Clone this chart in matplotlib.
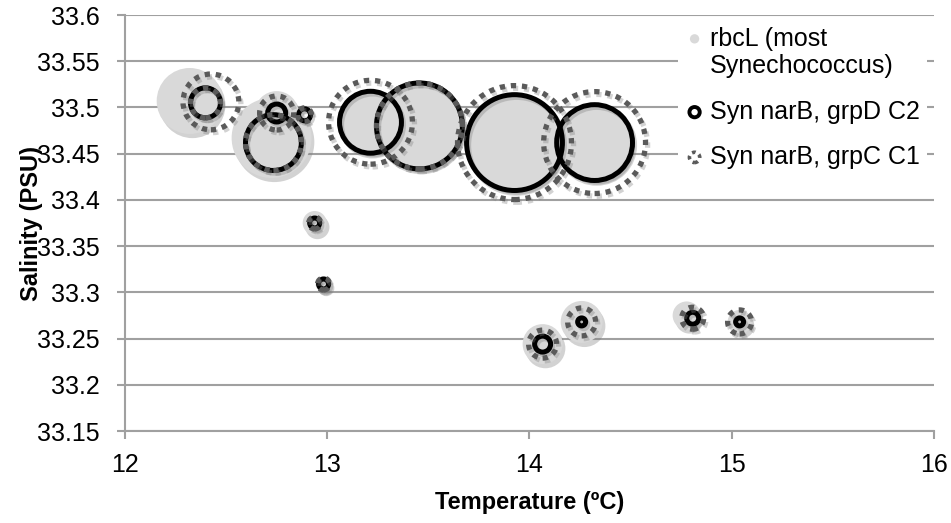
import numpy as np
import matplotlib.pyplot as plt
import matplotlib.patheffects as pe

# bubble data: temperature, salinity, relative bubble size
rbcl_temp = [12.32, 12.725, 12.75, 13.214, 13.456, 13.926, 14.322, 12.938, 12.982, 14.065, 14.258, 14.777, 15.039]
rbcl_sal = [33.507, 33.467, 33.494, 33.484, 33.480, 33.462, 33.462, 33.375, 33.309, 33.244, 33.268, 33.275, 33.268]
rbcl_size = [10.9, 16.0, 4.8, 9.6, 18.5, 23.0, 14.4, 1.44, 0.64, 4.0, 4.4, 1.96, 1.44]

grpd_temp = [12.398, 12.734, 12.75, 12.888, 13.214, 13.456, 13.926, 14.322, 12.938, 12.982, 14.065, 14.258, 14.807, 15.039]
grpd_sal = [33.505, 33.462, 33.494, 33.492, 33.484, 33.480, 33.462, 33.462, 33.375, 33.309, 33.244, 33.268, 33.272, 33.268]
grpd_size = [2.25, 7.8, 0.81, 0.36, 9.6, 18.5, 23.0, 14.4, 0.25, 0.25, 0.64, 0.16, 0.36, 0.16]

grpc_temp = [12.398, 12.425, 12.734, 12.75, 12.888, 13.214, 13.456, 13.926, 14.322, 12.938, 12.982, 14.065, 14.258, 14.807, 15.039]
grpc_sal = [33.505, 33.506, 33.462, 33.494, 33.492, 33.484, 33.480, 33.462, 33.462, 33.375, 33.309, 33.244, 33.268, 33.272, 33.268]
grpc_size = [2.25, 7.8, 7.8, 2.9, 0.49, 17.6, 18.5, 32.5, 26.0, 0.36, 0.36, 1.96, 1.96, 1.21, 1.44]

labels = ['rbcL (most\nSynechococcus)', 'Syn narB, grpD C2', 'Syn narB, grpC C1']

x_ticks = [12, 13, 14, 15, 16]
y_ticks = np.round(np.arange(33.15, 33.601, 0.05), 2)

plt.rcParams['font.family'] = ['Liberation Sans', 'DejaVu Sans']

SCALE = 207  # bubble value -> points^2
grid_col = '#a0a0a0'

fig = plt.figure(figsize=(9.51, 5.23), dpi=100)
ax = fig.add_axes([0.1314, 0.1759, 0.8507, 0.7954])

shadow_fill = [pe.SimplePatchShadow(offset=(2, -3), shadow_rgbFace='#808080', alpha=0.35), pe.Normal()]
shadow_line = [pe.SimpleLineShadow(offset=(1.5, -2), shadow_color='#808080', alpha=0.35), pe.Normal()]

ax.scatter(rbcl_temp, rbcl_sal, s=np.array(rbcl_size) * SCALE, color='#d9d9d9',
           edgecolors='none', zorder=3, path_effects=shadow_fill, label=labels[0])
ax.scatter(grpd_temp, grpd_sal, s=np.array(grpd_size) * SCALE, facecolors='none',
           edgecolors='black', linewidths=3.6, zorder=4, path_effects=shadow_line, label=labels[1])
ax.scatter(grpc_temp, grpc_sal, s=np.array(grpc_size) * SCALE, facecolors='none',
           edgecolors='#5a5a5a', linewidths=3.8, linestyle=(0, (1, 1.1)), zorder=5,
           path_effects=shadow_line, label=labels[2])

ax.set_xlim(12, 16)
ax.set_ylim(33.15, 33.6)
ax.set_xticks(x_ticks)
ax.set_yticks(y_ticks)
ax.set_yticklabels(['%g' % v for v in y_ticks])
ax.tick_params(axis='both', labelsize=18, color=grid_col, width=1.5, length=6)
ax.tick_params(axis='y', pad=12)
ax.tick_params(axis='x', pad=10)

ax.grid(axis='y', color=grid_col, linewidth=1.5, zorder=0)
ax.set_axisbelow(True)
for side in ['top', 'right']:
    ax.spines[side].set_visible(False)
for side in ['left', 'bottom']:
    ax.spines[side].set_color(grid_col)
    ax.spines[side].set_linewidth(1.5)

ax.set_xlabel('Temperature (ºC)', fontsize=17, fontweight='bold', labelpad=10)
ax.set_ylabel('Salinity (PSU)', fontsize=17, fontweight='bold', labelpad=-4)

leg = ax.legend(loc='upper left', bbox_to_anchor=(0.684, 0.99), fontsize=18, frameon=True,
                facecolor='white', edgecolor='none', framealpha=1, borderaxespad=0,
                borderpad=0.3, handlelength=0.7, handletextpad=0.25, labelspacing=0.85,
                scatterpoints=1)
leg.set_zorder(10)
for h, sz, lw in zip(leg.legend_handles, [45, 55, 55], [0, 2.8, 2.6]):
    h.set_sizes([sz])
    h.set_path_effects([])
    if lw:
        h.set_linewidth(lw)
# Excel puts the marker of the two-line entry beside its first line
h0 = leg.legend_handles[0]
h0.set_offsets(h0.get_offsets() + np.array([0, 12]))

fig.savefig('out.png', dpi=100)
